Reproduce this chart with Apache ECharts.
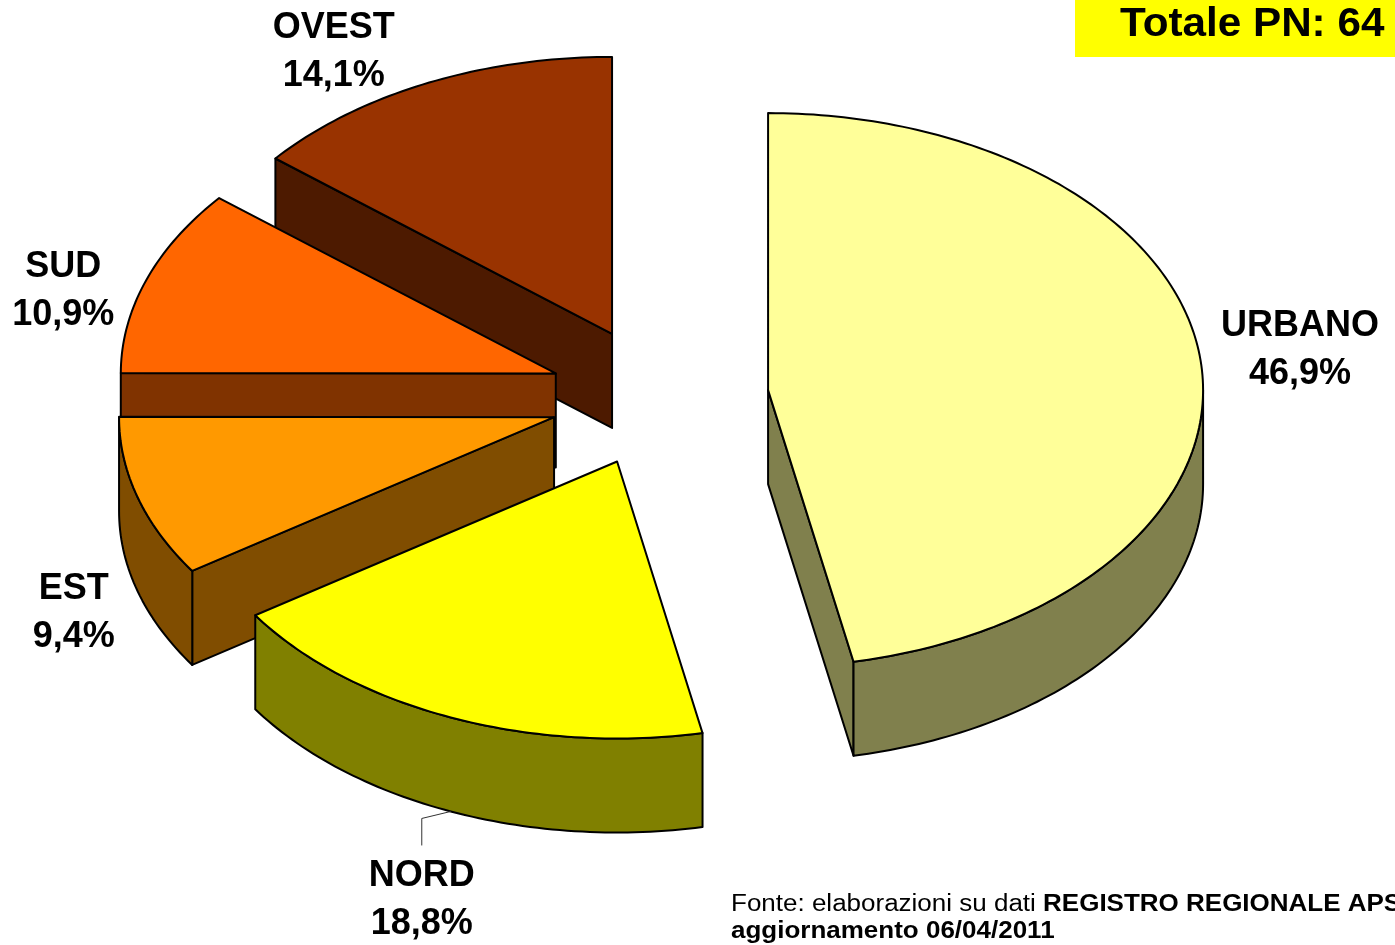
<!DOCTYPE html>
<html>
<head>
<meta charset="utf-8">
<script src="https://cdn.jsdelivr.net/npm/echarts@6/dist/echarts.min.js"></script>
<style>
  html, body { margin: 0; padding: 0; background: #fff; }
  #main { width: 1395px; height: 945px; }
</style>
</head>
<body>
<div id="main"></div>
<script>
// dati
var categories = ['URBANO', 'NORD', 'EST', 'SUD', 'OVEST'];
var percentages = [46.9, 18.8, 9.4, 10.9, 14.1];
var topColors = ['#FFFF99', '#FFFF00', '#FF9900', '#FF6600', '#993300'];
var totalLabel = 'Totale PN: 64';

// layout della torta 3D (centro, raggi dell'ellisse, spessore, esplosione)
var CX = 659, CY = 397, RX = 435, RY = 277, DEPTH = 94, EXPLODE = 0.252;
// spostamento delle etichette rispetto al bordo della fetta
var labelShift = [[99, -13], [-29, 89], [-64, 22], [-83, 11], [-92, -32]];
var leader = [false, true, false, false, false];
var FONT = '"Liberation Sans", Arial, sans-serif';

var RAD = Math.PI / 180;
var total = percentages.reduce(function (a, b) { return a + b; }, 0);
var slices = [];
var cum = 0;
percentages.forEach(function (v) {
    var a1 = 90 - 360 * cum / total;
    cum += v;
    var a2 = 90 - 360 * cum / total;
    slices.push({ a1: a1, a2: a2, mid: (a1 + a2) / 2 });
});

// ordine di disegno: dal fondo verso chi guarda
var order = slices.map(function (s, i) { return i; })
    .sort(function (a, b) { return -Math.sin(slices[a].mid * RAD) + Math.sin(slices[b].mid * RAD); });
var rank = [];
order.forEach(function (idx, r) { rank[idx] = r; });

function shade(hex) {
    var n = parseInt(hex.slice(1), 16);
    var r = Math.round(((n >> 16) & 255) / 2), g = Math.round(((n >> 8) & 255) / 2), b = Math.round((n & 255) / 2);
    return 'rgb(' + r + ',' + g + ',' + b + ')';
}

function renderItem(params, api) {
    var i = params.dataIndex;
    var s = slices[i];
    var m = s.mid * RAD;
    var ax = CX + RX * EXPLODE * Math.cos(m);
    var ay = CY - RY * EXPLODE * Math.sin(m);
    var z = rank[i] * 10;
    var side = shade(topColors[i]);
    var children = [];

    function pt(deg, dz) {
        return [ax + RX * Math.cos(deg * RAD), ay - RY * Math.sin(deg * RAD) + (dz || 0)];
    }
    function arc(from, to, dz) {
        var pts = [];
        var n = Math.max(2, Math.ceil(Math.abs(from - to)));
        for (var k = 0; k <= n; k++) pts.push(pt(from + (to - from) * k / n, dz));
        return pts;
    }
    function poly(points, fill, z2) {
        return {
            type: 'polygon',
            z2: z2,
            shape: { points: points },
            style: { fill: fill, stroke: '#000', lineWidth: 2, lineJoin: 'round' }
        };
    }
    function radialWall(deg) {
        var p = pt(deg);
        return poly([[ax, ay], p, [p[0], p[1] + DEPTH], [ax, ay + DEPTH]], side, z + 1);
    }

    if (Math.cos(s.a1 * RAD) < -1e-6) children.push(radialWall(s.a1));
    if (Math.cos(s.a2 * RAD) > 1e-6) children.push(radialWall(s.a2));

    // parete esterna visibile (metà anteriore dell'ellisse)
    for (var k = -1; k <= 1; k++) {
        var lo = k * 360 - 180, hi = k * 360;
        var from = Math.min(s.a1, hi), to = Math.max(s.a2, lo);
        if (from - to > 0.01) {
            var topArc = arc(from, to, 0);
            var botArc = arc(from, to, DEPTH).reverse();
            children.push(poly(topArc.concat(botArc), side, z + 1));
        }
    }

    // faccia superiore
    children.push(poly([[ax, ay]].concat(arc(s.a1, s.a2, 0)), topColors[i], z + 2));

    // etichetta
    var anchor = pt(s.mid, Math.sin(m) < 0 ? DEPTH : 0);
    var lx = anchor[0] + labelShift[i][0];
    var ly = anchor[1] + labelShift[i][1];
    if (leader[i]) {
        children.push({
            type: 'polyline',
            z2: 100,
            shape: { points: [anchor, [lx, anchor[1] + 7], [lx, ly - 55]] },
            style: { stroke: '#333', lineWidth: 1, fill: null }
        });
    }
    children.push({
        type: 'text',
        z2: 101,
        style: {
            text: categories[i] + '\n' + percentages[i].toFixed(1).replace('.', ',') + '%',
            x: lx,
            y: ly,
            fill: '#000',
            fontFamily: FONT,
            fontWeight: 'bold',
            fontSize: 36,
            lineHeight: 48,
            align: 'center',
            verticalAlign: 'middle'
        }
    });

    return { type: 'group', children: children };
}

var myChart = echarts.init(document.getElementById('main'));
myChart.setOption({
    animation: false,
    backgroundColor: '#fff',
    graphic: [
        {
            type: 'rect',
            shape: { x: 1075, y: 0, width: 330, height: 57 },
            style: { fill: '#FFFF00' }
        },
        {
            type: 'text',
            x: 1120,
            y: 25,
            scaleX: 1.03,
            style: {
                text: totalLabel,
                x: 0,
                y: 0,
                fill: '#000',
                fontFamily: FONT,
                fontWeight: 'bold',
                fontSize: 41,
                verticalAlign: 'middle'
            }
        },
        {
            type: 'text',
            x: 731,
            y: 891,
            scaleX: 1.13,
            style: {
                text: '{n|Fonte: elaborazioni su dati }{b|REGISTRO REGIONALE APS}\n{b|aggiornamento 06/04/2011}',
                x: 0,
                y: 0,
                fill: '#000',
                rich: {
                    n: { fontFamily: FONT, fontSize: 23, lineHeight: 27 },
                    b: { fontFamily: FONT, fontSize: 23, fontWeight: 'bold', lineHeight: 27 }
                }
            }
        }
    ],
    series: [{
        type: 'custom',
        coordinateSystem: 'none',
        renderItem: renderItem,
        data: percentages.map(function (v, i) { return { name: categories[i], value: v }; })
    }]
});
</script>
</body>
</html>
